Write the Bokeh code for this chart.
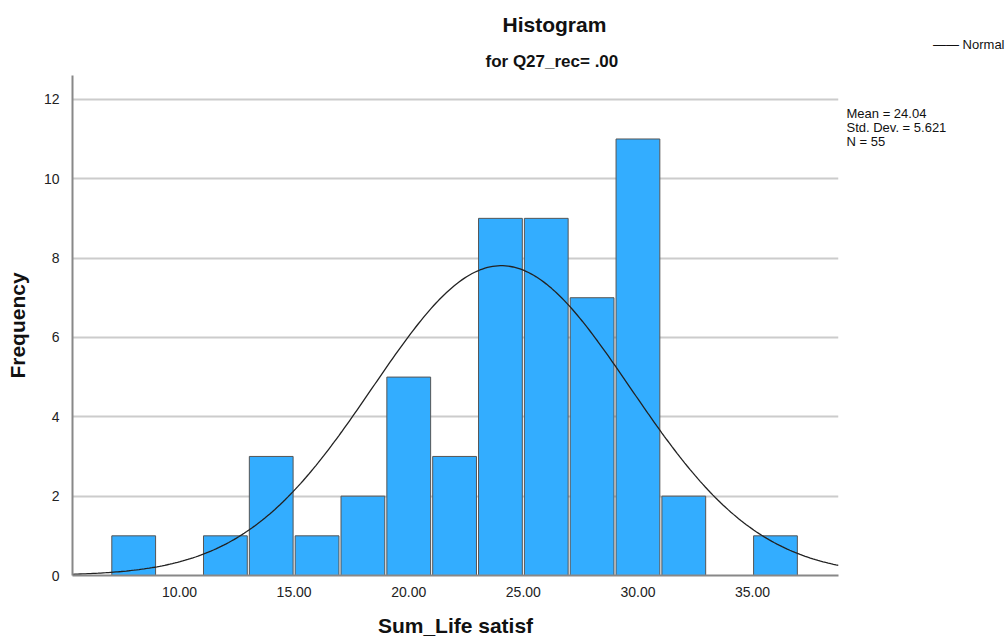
import numpy as np
from bokeh.plotting import figure
from bokeh.layouts import row
from bokeh.models import Range1d, FixedTicker, Title, Label
from bokeh.embed import file_html
from bokeh.resources import INLINE

# Data
bin_centers = [8, 10, 12, 14, 16, 18, 20, 22, 24, 26, 28, 30, 32, 34, 36]
counts = [1, 0, 1, 3, 1, 2, 5, 3, 9, 9, 7, 11, 2, 0, 1]
bin_width = 2
mean_val = 24.04
std_val = 5.621
n_val = 55
x_ticks = [10, 15, 20, 25, 30, 35]
x_tick_labels = ["10.00", "15.00", "20.00", "25.00", "30.00", "35.00"]
y_ticks = [0, 2, 4, 6, 8, 10, 12]
stats_lines = ["Mean = 24.04", "Std. Dev. = 5.621", "N = 55"]

FONT = "Liberation Sans"
W, H = 842, 640           # main figure
W2 = 164                  # side panel figure with stats / legend
FL, FT, FR, FB = 72, 75, 838, 575   # frame edges in picture px

p = figure(width=W, height=H, output_backend="svg", toolbar_location=None, title=None,
           x_range=Range1d(5.33, 38.75), y_range=Range1d(0, 12.6),
           min_border_left=FL, min_border_right=W - FR, min_border_top=FT, min_border_bottom=H - FB)
p.outline_line_color = None
p.background_fill_color = "white"

# grid
p.xgrid.grid_line_color = None
p.ygrid.grid_line_color = "#cccccc"
p.ygrid.grid_line_width = 2
p.ygrid.ticker = FixedTicker(ticks=y_ticks)

# axes
for ax in (p.xaxis[0], p.yaxis[0]):
    ax.axis_line_color = "#888888"
    ax.axis_line_width = 2
    ax.major_tick_line_color = None
    ax.minor_tick_line_color = None
    ax.major_label_text_font = FONT
    ax.major_label_text_font_size = "14px"
    ax.major_label_text_color = "#222222"
    ax.axis_label_text_font = FONT
    ax.axis_label_text_font_size = "21px"
    ax.axis_label_text_font_style = "bold"
    ax.axis_label_text_color = "#111111"
p.xaxis.ticker = FixedTicker(ticks=x_ticks)
p.xaxis.major_label_overrides = {t: l for t, l in zip(x_ticks, x_tick_labels)}
p.xaxis.major_label_standoff = 5
p.xaxis.axis_label = "Sum_Life satisf"
p.xaxis.axis_label_standoff = 14
p.yaxis.ticker = FixedTicker(ticks=y_ticks)
p.yaxis.major_label_standoff = 7
p.yaxis.axis_label = "Frequency"
p.yaxis.axis_label_standoff = 12

# bars
p.vbar(x=bin_centers, top=counts, width=bin_width * 0.955, bottom=0,
       fill_color="#33adff", line_color="#555555", line_width=1)

# normal curve (from stated mean / sd / N)
xs = np.linspace(5.33, 38.75, 300)
ys = n_val * bin_width / (std_val * np.sqrt(2 * np.pi)) * np.exp(-0.5 * ((xs - mean_val) / std_val) ** 2)
curve = p.line(xs, ys, line_color="#222222", line_width=1.3)

# titles
p.add_layout(Title(text="for Q27_rec= .00", align="left", offset=485 - FL, text_font=FONT,
                   text_font_size="17px", text_font_style="bold", text_color="#111111",
                   standoff=9), "above")
p.add_layout(Title(text="Histogram", align="left", offset=502 - FL, text_font=FONT,
                   text_font_size="21px", text_font_style="bold", text_color="#111111",
                   standoff=20), "above")

# side panel figure: its frame is aligned with the main frame (y 75..575)
q = figure(width=W2, height=H, output_backend="svg", toolbar_location=None, title=None,
           x_range=Range1d(0, W2), y_range=Range1d(0, 500),
           min_border_left=0, min_border_right=0, min_border_top=0, min_border_bottom=0)
q.axis.visible = False
q.grid.visible = False
q.outline_line_color = None
X0 = W  # picture x of side panel's left edge

for i, s in enumerate(stats_lines):
    q.add_layout(Label(x=846 - X0, y=FB - (113 + 14 * i), x_units="screen", y_units="screen",
                       text=s, text_font=FONT, text_font_size="13px", text_color="#111111",
                       text_baseline="alphabetic"))

# legend entry for the normal curve, placed above the side frame
q.add_layout(Title(text="\u2014\u2014 Normal", align="right", offset=2, text_font=FONT,
                   text_font_size="13px", text_font_style="normal", text_color="#111111",
                   standoff=48), "above")

layout = row(p, q, spacing=0)
open("out.html", "w").write(file_html(layout, INLINE))
